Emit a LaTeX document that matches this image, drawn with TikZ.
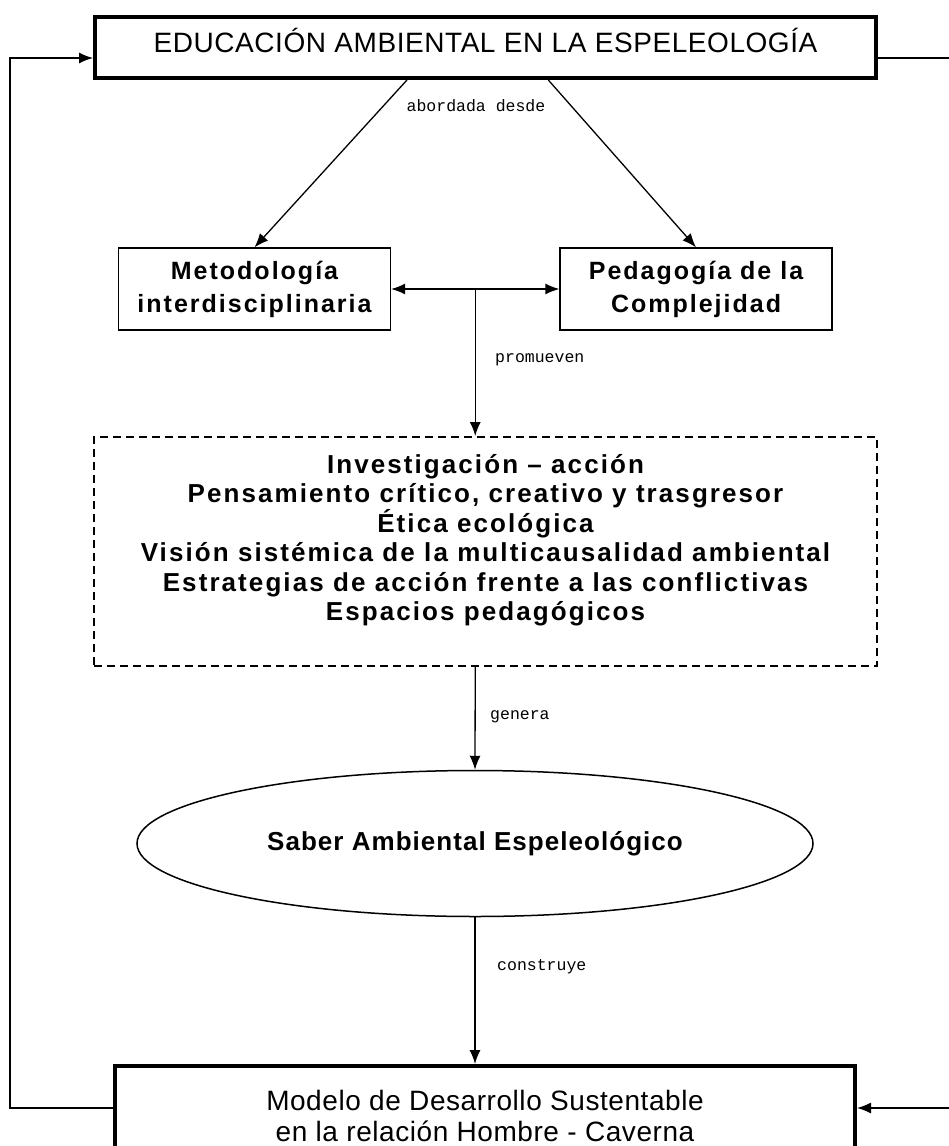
\documentclass[tikz,border=0pt]{standalone}
\usepackage{fontspec}
\setmainfont{Liberation Sans}
\newfontfamily\titlefont[LetterSpace=2]{Liberation Sans}
\newfontfamily\boxfont[LetterSpace=8]{Liberation Sans}
\newfontfamily\ovalfont[LetterSpace=4]{Liberation Sans}
\newfontfamily\labelfont{Liberation Mono}
\usetikzlibrary{arrows.meta, positioning, calc, shapes.geometric}

\begin{document}
\begin{tikzpicture}[
  x=1pt, y=-1pt,
  mainbox/.style = {draw, line width=4pt, inner sep=0pt, align=center, font=\titlefont\fontsize{28}{31}\selectfont},
  block/.style = {draw, line width=1.3pt, minimum height=82pt, minimum width=272pt, inner sep=0pt, align=center, font=\boxfont\bfseries\fontsize{25}{33}\selectfont},
  dashbox/.style = {draw, line width=2pt, dash pattern=on 8pt off 5pt, minimum width=783pt, minimum height=229pt, inner sep=0pt},
  arrow/.style = {line width=1.3pt, -{Latex[length=14pt, width=11pt]}},
  twoway/.style = {line width=1.3pt, {Latex[length=14pt, width=11pt]}-{Latex[length=14pt, width=11pt]}},
  tag/.style = {font=\labelfont\fontsize{16.5}{19}\selectfont, anchor=west, inner sep=0pt}
]
  \useasboundingbox (0,0) rectangle (949,1146);
  \fill[white] (0,0) rectangle (949,1146);

  % Top box
  \node[mainbox, minimum width=781pt, minimum height=61pt, text height=20pt, text depth=11pt] (educacion) at (485.5,47.5) {EDUCACIÓN AMBIENTAL EN LA ESPELEOLOGÍA};

  % Two approaches
  \node[block] (metodologia) at (254.5,289) {Metodología\\interdisciplinaria};
  \node[block] (pedagogia) at (696,289) {Pedagogía de la\\Complejidad};

  \draw[arrow] ($(educacion.south west)!0.4!(educacion.south east)$) -- (metodologia.north);
  \draw[arrow] ($(educacion.south west)!0.58!(educacion.south east)$) -- (pedagogia.north);
  \node[tag, anchor=center] (abordada) at (476,106) {abordada desde};

  \draw[twoway] (metodologia.east) -- (pedagogia.west);
  \coordinate (split) at ($(metodologia.east)!0.5!(pedagogia.west)$);

  % Dashed box
  \node[dashbox] (acciones) at (485.5,551.5) {};
  \node[align=center, font=\boxfont\bfseries\fontsize{26}{29.5}\selectfont] (accionestexto) at (485.5,540) {Investigación – acción\\
    Pensamiento crítico, creativo y trasgresor\\
    Ética ecológica\\
    Visión sistémica de la multicausalidad ambiental\\
    Estrategias de acción frente a las conflictivas\\
    Espacios pedagógicos};

  \draw[arrow] (split) -- (split |- acciones.north);
  \node[tag] (promueven) at (495,360) {promueven};

  % Ellipse
  \node[ellipse, draw, line width=1.5pt, minimum width=676pt, minimum height=146pt, inner sep=0pt, font=\ovalfont\bfseries\fontsize{26}{30}\selectfont] (saber) at (475,843.5) {Saber Ambiental Espeleológico};

  \draw[arrow] (split |- acciones.south) -- (saber.north);
  \node[tag] (genera) at (490,717) {genera};

  % Bottom box
  \node[mainbox, minimum width=740pt, minimum height=100pt] (modelo) at (485,1116) {Modelo de Desarrollo Sustentable\\en la relación Hombre - Caverna};

  \draw[arrow] (saber.south) -- (saber.south |- modelo.north);
  \node[tag] (construye) at (497,967) {construye};

  % Feedback
  \coordinate (railL) at (10,1108);
  \coordinate (railR) at (949,1108);
  \coordinate (topL) at (10,58);
  \coordinate (topR) at (949,58);
  \draw[arrow] (railL -| modelo.west) -- (railL) -- (topL) -- (topL -| educacion.west);
  \draw[line width=1.3pt] (topR -| educacion.east) -- (topR);
  \draw[arrow] (railR) -- (railR -| modelo.east);

\end{tikzpicture}
\end{document}
